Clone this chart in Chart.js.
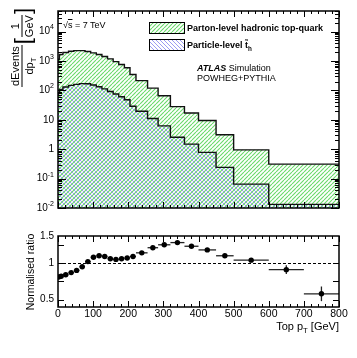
<!DOCTYPE html>
<html>
<head>
<meta charset="utf-8">
<script src="https://cdn.jsdelivr.net/npm/chart.js@4.4.0/dist/chart.umd.min.js"></script>
<style>
  html, body { margin: 0; padding: 0; background: #fff; }
  #wrap { position: relative; width: 357px; height: 358px; overflow: hidden; font-family: 'Liberation Sans', Arial, sans-serif; color: #000; }
  #topBox { position: absolute; left: 0; top: 0; }
  #botBox { position: absolute; left: 0; top: 215px; }
  .lbl { position: absolute; white-space: nowrap; line-height: 1; }
  .frac { display: inline-block; vertical-align: middle; text-align: center; }
  .frac .num { display: block; border-bottom: 1px solid #000; padding: 0 1px 1px; }
  .frac .den { display: block; padding-top: 1px; }
  .br { display: inline-block; vertical-align: middle; font-size: 22px; font-weight: 300; margin: 0 1px; }
  sub { font-size: 70%; vertical-align: -3px; line-height: 0; }
</style>
</head>
<body>
<div id="wrap">
  <div id="topBox"><canvas id="topChart" width="357" height="215"></canvas></div>
  <div id="botBox"><canvas id="ratioChart" width="357" height="143"></canvas></div>

  <div class="lbl" style="left:22px; top:47px; font-size:11px; transform: translate(-50%,-50%) rotate(-90deg);">
    <span class="frac"><span class="num">dEvents</span><span class="den">dp<sub>T</sub></span></span><span class="br">[</span><span class="frac"><span class="num">1</span><span class="den">GeV</span></span><span class="br">]</span>
  </div>
  <div class="lbl" style="left:30px; top:272px; font-size:10.5px; transform: translate(-50%,-50%) rotate(-90deg);">Normalised ratio</div>
  <div class="lbl" style="right:18px; top:321px; font-size:11px;">Top p<sub>T</sub> [GeV]</div>

  <div class="lbl" style="left:63px; top:20.5px; font-size:9px;">√<span style="text-decoration:overline">s</span> = 7 TeV</div>
  <div class="lbl" style="left:187px; top:24px; font-size:9px; font-weight:bold;">Parton-level hadronic top-quark</div>
  <div class="lbl" style="left:187px; top:40.5px; font-size:9px; font-weight:bold;">Particle-level t̃<sub>h</sub></div>
  <div class="lbl" style="left:197px; top:64px; font-size:9px;"><b><i>ATLAS</i></b> Simulation</div>
  <div class="lbl" style="left:197px; top:74px; font-size:9px;">POWHEG+PYTHIA</div>
</div>

<script>
// bin edges in GeV
const binEdges = [0, 4, 14, 30, 45, 61, 77, 93, 109, 125, 141, 157, 173, 189, 205, 222, 255, 285, 320, 360, 400, 450, 500, 600, 700, 800];
// dEvents/dpT
const partonValues = [950, 1150, 1650, 1950, 2150, 2250, 2250, 2100, 1880, 1650, 1420, 1180, 950, 760, 590, 345, 215, 119, 66, 28, 17, 9.5, 3.1, 0.95, 0.31];
const particleValues = [62, 78, 108, 130, 148, 160, 170, 168, 153, 133, 112, 92, 75, 61, 48, 29, 19.5, 11, 6.2, 2.55, 1.49, 0.78, 0.24, 0.065, 0.0133];
// normalised ratio particle / parton
const ratioValues = [0.81, 0.82, 0.84, 0.87, 0.90, 0.95, 1.02, 1.08, 1.10, 1.09, 1.06, 1.05, 1.06, 1.07, 1.09, 1.14, 1.21, 1.25, 1.28, 1.23, 1.18, 1.10, 1.04, 0.91, 0.58];
const ratioErrors = [0.01, 0.01, 0.01, 0.01, 0.01, 0.01, 0.01, 0.01, 0.01, 0.01, 0.01, 0.01, 0.01, 0.01, 0.01, 0.01, 0.015, 0.015, 0.015, 0.02, 0.02, 0.025, 0.03, 0.06, 0.10];

const xTickValues = [0, 100, 200, 300, 400, 500, 600, 700, 800];
const xTickLabels = ['0', '100', '200', '300', '400', '500', '600', '700', '800'];
const logTickValues = [0.01, 0.1, 1, 10, 100, 1000, 10000];
const logTickLabels = ['10^-2', '10^-1', '1', '10', '10^2', '10^3', '10^4'];
const ratioTickValues = [0.5, 1, 1.5];
const ratioTickLabels = ['0.5', '1', '1.5'];

const FONT = '"Liberation Sans", Arial, sans-serif';

// diagonal hatch tile, dir 1 = "/", dir -1 = "\"
function hatch(color, dir, w) {
  const s = 4;
  const c = document.createElement('canvas');
  c.width = s; c.height = s;
  const g = c.getContext('2d');
  g.strokeStyle = color;
  g.lineWidth = w;
  g.beginPath();
  for (let k = -1; k <= 1; k++) {
    if (dir > 0) { g.moveTo(k * s, s); g.lineTo(k * s + s, 0); }
    else { g.moveTo(k * s, 0); g.lineTo(k * s + s, s); }
  }
  g.stroke();
  return g.createPattern(c, 'repeat');
}

const greenHatch = hatch('rgb(105,218,105)', 1, 1.1);
const blueHatch = hatch('rgb(145,145,240)', -1, 0.9);

function stepData(values) {
  const pts = values.map((v, i) => ({ x: binEdges[i], y: v }));
  pts.push({ x: binEdges[binEdges.length - 1], y: values[values.length - 1] });
  return pts;
}

function seg(ctx, x0, y0, x1, y1) {
  ctx.beginPath(); ctx.moveTo(x0, y0); ctx.lineTo(x1, y1); ctx.stroke();
}

function drawXTicks(ctx, a, x) {
  for (let v = 0; v <= 800; v += 20) {
    const px = Math.round(x.getPixelForValue(v)) + 0.5;
    const len = v % 100 === 0 ? 6 : 3;
    seg(ctx, px, a.bottom, px, a.bottom - len);
    seg(ctx, px, a.top, px, a.top + len);
  }
}

const topAxes = {
  id: 'topAxes',
  afterDraw(chart) {
    const { ctx, chartArea: a, scales: { x, y } } = chart;
    ctx.save();
    ctx.strokeStyle = '#000';
    ctx.lineWidth = 1;
    drawXTicks(ctx, a, x);
    for (let e = -2; e <= 4; e++) {
      for (let m = 1; m <= 9; m++) {
        const v = m * Math.pow(10, e);
        if (v > y.max) break;
        const py = Math.round(y.getPixelForValue(v)) + 0.5;
        const len = m === 1 ? 8 : 4;
        seg(ctx, a.left, py, a.left + len, py);
        seg(ctx, a.right, py, a.right - len, py);
      }
    }
    ctx.lineWidth = 1.5;
    ctx.strokeRect(a.left, a.top, a.right - a.left, a.bottom - a.top);

    // tick labels
    ctx.fillStyle = '#000';
    ctx.textAlign = 'right';
    ctx.textBaseline = 'middle';
    logTickValues.forEach((v, i) => {
      const py = y.getPixelForValue(v);
      const [base, exp] = logTickLabels[i].split('^');
      let xr = a.left - 4;
      if (exp) {
        ctx.font = '7px ' + FONT;
        ctx.fillText(exp, xr, py - 4);
        xr -= ctx.measureText(exp).width;
      }
      ctx.font = '10px ' + FONT;
      ctx.fillText(base, xr, py);
    });

    // legend swatches
    [[149.5, 22.5, greenHatch], [149.5, 39.5, blueHatch]].forEach(([lx, ly, pat]) => {
      ctx.fillStyle = '#fff';
      ctx.fillRect(lx, ly, 35, 11);
      ctx.fillStyle = pat;
      ctx.fillRect(lx, ly, 35, 11);
      ctx.lineWidth = 1;
      ctx.strokeRect(lx, ly, 35, 11);
    });
    ctx.restore();
  }
};

const ratioAxes = {
  id: 'ratioAxes',
  beforeDatasetsDraw(chart) {
    const { ctx, chartArea: a, scales: { x, y } } = chart;
    ctx.save();
    ctx.strokeStyle = '#000';
    ctx.lineWidth = 1;
    ctx.setLineDash([3, 2]);
    const p1 = Math.round(y.getPixelForValue(1)) + 0.5;
    seg(ctx, a.left, p1, a.right, p1);
    ctx.setLineDash([]);
    ctx.strokeStyle = '#222';
    ctx.lineWidth = 1.3;
    ratioValues.forEach((r, i) => {
      const x0 = x.getPixelForValue(binEdges[i]);
      const x1 = x.getPixelForValue(binEdges[i + 1]);
      const xc = x.getPixelForValue((binEdges[i] + binEdges[i + 1]) / 2);
      const yc = y.getPixelForValue(r);
      seg(ctx, x0, yc, x1, yc);
      seg(ctx, xc, y.getPixelForValue(r - ratioErrors[i]), xc, y.getPixelForValue(r + ratioErrors[i]));
    });
    ctx.restore();
  },
  afterDraw(chart) {
    const { ctx, chartArea: a, scales: { x, y } } = chart;
    ctx.save();
    ctx.strokeStyle = '#000';
    ctx.lineWidth = 1;
    drawXTicks(ctx, a, x);
    for (let v = 0.5; v <= 1.25; v += 0.25) {
      const py = Math.round(y.getPixelForValue(v)) + 0.5;
      seg(ctx, a.left, py, a.left + 6, py);
      seg(ctx, a.right, py, a.right - 6, py);
    }
    ctx.lineWidth = 1.5;
    ctx.strokeRect(a.left, a.top, a.right - a.left, a.bottom - a.top);

    ctx.fillStyle = '#000';
    ctx.font = '10.5px ' + FONT;
    ctx.textAlign = 'center';
    ctx.textBaseline = 'middle';
    xTickValues.forEach((v, i) => ctx.fillText(xTickLabels[i], x.getPixelForValue(v), a.bottom + 7));
    ctx.font = '10px ' + FONT;
    ctx.textAlign = 'right';
    ratioTickValues.forEach((v, i) => {
      const py = Math.max(y.getPixelForValue(v), a.top);
      ctx.fillText(ratioTickLabels[i], a.left - 4, py);
    });
    ctx.restore();
  }
};

new Chart(document.getElementById('topChart'), {
  type: 'line',
  data: {
    datasets: [
      {
        label: 'Particle-level',
        data: stepData(particleValues),
        stepped: 'after',
        borderColor: '#111',
        borderWidth: 1.4,
        backgroundColor: blueHatch,
        fill: 'start',
        pointRadius: 0
      },
      {
        label: 'Parton-level',
        data: stepData(partonValues),
        stepped: 'after',
        borderColor: '#111',
        borderWidth: 1.4,
        backgroundColor: greenHatch,
        fill: 'start',
        pointRadius: 0
      }
    ]
  },
  options: {
    responsive: false, animation: false, events: [],
    layout: { padding: { left: 58, right: 18, top: 11, bottom: 7 } },
    plugins: { legend: { display: false }, tooltip: { enabled: false } },
    scales: {
      x: { type: 'linear', min: 0, max: 800, display: false },
      y: { type: 'logarithmic', min: 0.01, max: 50000, display: false }
    }
  },
  plugins: [topAxes]
});

new Chart(document.getElementById('ratioChart'), {
  type: 'scatter',
  data: {
    datasets: [{
      label: 'ratio',
      data: ratioValues.map((r, i) => ({ x: (binEdges[i] + binEdges[i + 1]) / 2, y: r })),
      pointRadius: 2.7,
      pointBackgroundColor: '#000',
      pointBorderColor: '#000',
      pointBorderWidth: 0
    }]
  },
  options: {
    responsive: false, animation: false, events: [],
    layout: { padding: { left: 58, right: 18, top: 21, bottom: 51 } },
    plugins: { legend: { display: false }, tooltip: { enabled: false } },
    scales: {
      x: { type: 'linear', min: 0, max: 800, display: false },
      y: { type: 'linear', min: 0.4, max: 1.37, display: false }
    }
  },
  plugins: [ratioAxes]
});
</script>
</body>
</html>
